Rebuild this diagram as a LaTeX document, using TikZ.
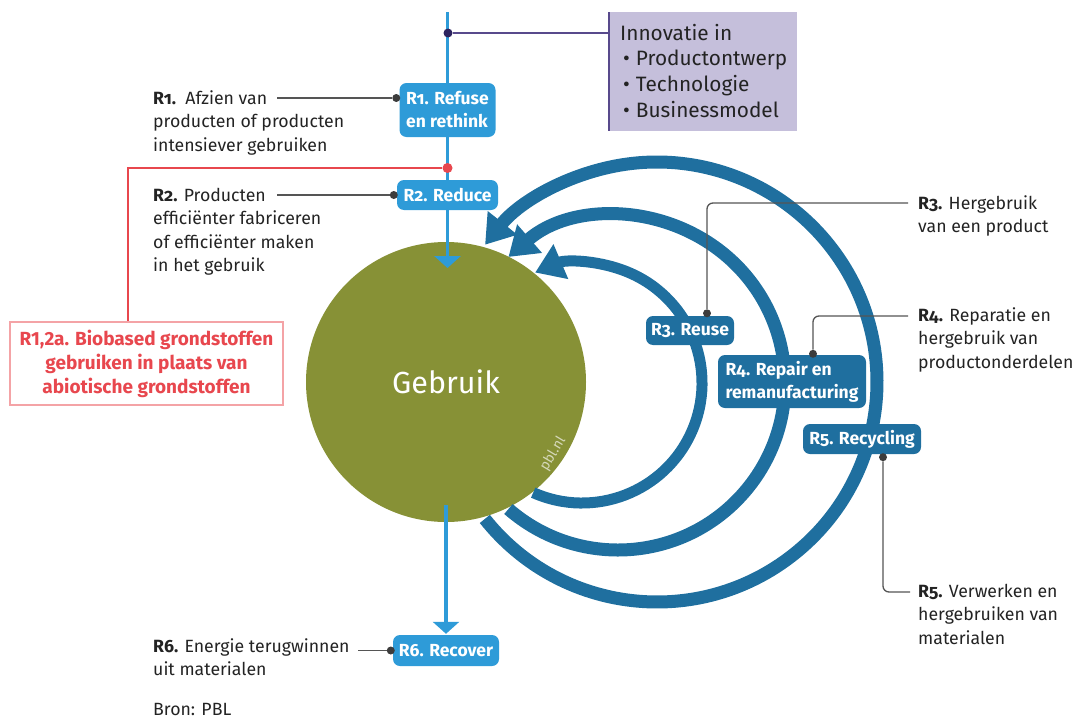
\documentclass[tikz,border=0pt]{standalone}
\usepackage{fontspec}
\setmainfont{Fira Sans}[Numbers=OldStyle]
\newfontfamily\liningsans{Fira Sans}[Numbers=Lining]
\usetikzlibrary{arrows.meta,calc}
\definecolor{olivec}{RGB}{135,145,54}
\definecolor{darkblue}{RGB}{31,111,159}
\definecolor{lightblue}{RGB}{46,155,216}
\definecolor{lavender}{RGB}{197,191,219}
\definecolor{purpleline}{RGB}{88,74,140}
\definecolor{navydot}{RGB}{45,35,95}
\definecolor{redline}{RGB}{232,71,78}
\definecolor{redborder}{RGB}{244,163,166}
\definecolor{textgrey}{RGB}{35,35,35}
\definecolor{conngrey}{RGB}{85,85,85}
\definecolor{dotgrey}{RGB}{60,60,60}
\begin{document}
\begin{tikzpicture}[x=1pt,y=1pt,
  boxbase/.style={rounded corners=7pt, text=white, inner sep=0pt, align=left,
    font=\bfseries\fontsize{17.5}{23}\selectfont},
  lbbox/.style={boxbase, fill=lightblue},
  dbbox/.style={boxbase, fill=darkblue},
  desc/.style={text=textgrey, font=\fontsize{17.7}{23.5}\selectfont, align=left,
    inner sep=0pt, anchor=north west},
  conn/.style={draw=conngrey, line width=1.3pt},
  dotnode/.style={circle, fill=dotgrey, inner sep=0pt, minimum size=8pt},
  cyclearc/.style={draw=darkblue, line width=13pt, -{Triangle[length=28pt,width=36pt]}},
  vline/.style={draw=lightblue, line width=3.5pt, -{Triangle[length=12pt,width=26pt]}},
  redln/.style={draw=redline, line width=2pt},
  purpln/.style={draw=purpleline, line width=1.5pt}
]
\useasboundingbox (0,0) rectangle (1077,-720);

% central circle
\node[circle, fill=olivec, minimum size=280pt, inner sep=0pt, text=white,
  font=\fontsize{30.5}{31}\selectfont] (gebruik) at (446,-382) {Gebruik};

% loops
\coordinate (c3) at (582,-383);
\coordinate (c4) at (618,-383);
\coordinate (c5) at (657,-382);
\draw[cyclearc, line width=11pt] ([shift={(-114:120pt)}]c3) arc[start angle=-114, end angle=113, radius=120pt];
\draw[cyclearc] ([shift={(-131:167pt)}]c4) arc[start angle=-131, end angle=131, radius=167pt];
\draw[cyclearc] ([shift={(-141.5:220pt)}]c5) arc[start angle=-141.5, end angle=141.4, radius=220pt];

% boxes
\node[lbbox, minimum width=96pt, minimum height=54pt] (r1) at (447.5,-110) {R1. Refuse\\en rethink};
\node[lbbox, minimum width=101pt, minimum height=30pt] (r2) at (447.5,-195) {R2. Reduce};
\node[lbbox, minimum width=106pt, minimum height=31pt] (r6) at (446,-650.5) {R6. Recover};
\node[dbbox, minimum width=88pt, minimum height=29pt] (r3) at (690,-330.5) {R3. Reuse};
\node[dbbox, minimum width=148pt, minimum height=53pt] (r4) at (792,-381.5) {R4. Repair en\\remanufacturing};
\node[dbbox, minimum width=118pt, minimum height=30pt] (r5) at (862,-439) {R5. Recycling};

% innovation box
\node[fill=lavender, anchor=north west, minimum width=188pt, minimum height=119pt,
  inner sep=0pt] (innov) at (609,-12) {};
\node[anchor=north west, inner sep=0pt, align=left, text=textgrey,
  font=\fontsize{20.8}{25.8}\selectfont] (innovtext) at ($(innov.north west)+(11,-11.6)$)
  {Innovatie in\\\hspace*{3pt}\textbullet\hspace{6pt}Productontwerp\\\hspace*{3pt}\textbullet\hspace{6pt}Technologie\\\hspace*{3pt}\textbullet\hspace{6pt}Businessmodel};
\draw[purpln] (innov.north west) -- (innov.south west);

% red box
\node[draw=redborder, line width=1.5pt, fill=white, minimum width=273pt, minimum height=83pt,
  inner sep=0pt, align=center, text=redline,
  font=\liningsans\bfseries\fontsize{19}{24}\selectfont] (redbox) at (146.5,-363.5)
  {R1,2a. Biobased grondstoffen\\gebruiken in plaats van\\abiotische grondstoffen};

% descriptions
\node[desc] (t1) at (153,-90) {\textbf{R1.}\ \ Afzien van\\producten of producten\\intensiever gebruiken};
\node[desc] (t2) at (153,-188) {\textbf{R2.} Producten\\efficiënter fabriceren\\of efficiënter maken\\in het gebruik};
\node[desc] (t3) at (918,-195) {\textbf{R3.} Hergebruik\\van een product};
\node[desc] (t4) at (918,-307) {\textbf{R4.} Reparatie en\\hergebruik van\\productonderdelen};
\node[desc] (t5) at (918,-584) {\textbf{R5.} Verwerken en\\hergebruiken van\\materialen};
\node[desc] (t6) at (153,-638) {\textbf{R6.} Energie terugwinnen\\uit materialen};
\node[desc] (bron) at (153,-703) {Bron: PBL};

% main vertical flow
\coordinate (vtop) at (447.5,-12);
\coordinate (vend) at (447.5,-268);
\draw[vline] (vtop) -- (r1) -- (r2) -- (vend);
\draw[vline] ($(gebruik.south)+(0,17)$) -- ([yshift=1pt]r6.north);

% purple link
\node[circle, fill=navydot, inner sep=0pt, minimum size=9pt] (pd) at (448,-33) {};
\draw[purpln] (pd) -- (pd -| innov.west);

% red link
\node[circle, fill=redline, inner sep=0pt, minimum size=10pt] (rd) at (447.5,-168) {};
\draw[redln] (rd) -| ([xshift=-18.5pt]redbox.north);

% connectors
\node[dotnode] (d1) at ($(r1.west)+(-3,12)$) {};
\node[dotnode] (d2) at ($(r2.west)+(-3,0)$) {};
\node[dotnode] (d6) at ($(r6.west)+(-2,0)$) {};
\node[dotnode] (d3) at ($(r3.north)+(17,2.5)$) {};
\node[dotnode] (d4) at ($(r4.north)+(21,1)$) {};
\node[dotnode] (d5) at ($(r5.south)+(21,-3)$) {};
\coordinate (l1) at (277,-98);
\coordinate (l2) at (277,-195);
\coordinate (l6) at (358,-650.5);
\coordinate (l3) at (908,-203);
\coordinate (l4) at (908,-316);
\coordinate (l5) at (910,-592);
\draw[conn] (l1) -- (d1);
\draw[conn] (l2) -- (d2);
\draw[conn] (l6) -- (d6);
\draw[conn, rounded corners=6pt] (d3) |- (l3);
\draw[conn, rounded corners=6pt] (d4) |- (l4);
\draw[conn, rounded corners=6pt] (d5) |- (l5);

% watermark
\node[rotate=59, text=white!65!olivec, font=\fontsize{14}{14}\selectfont, inner sep=0pt] (pbl) at (553,-454) {pbl.nl};
\end{tikzpicture}
\end{document}
